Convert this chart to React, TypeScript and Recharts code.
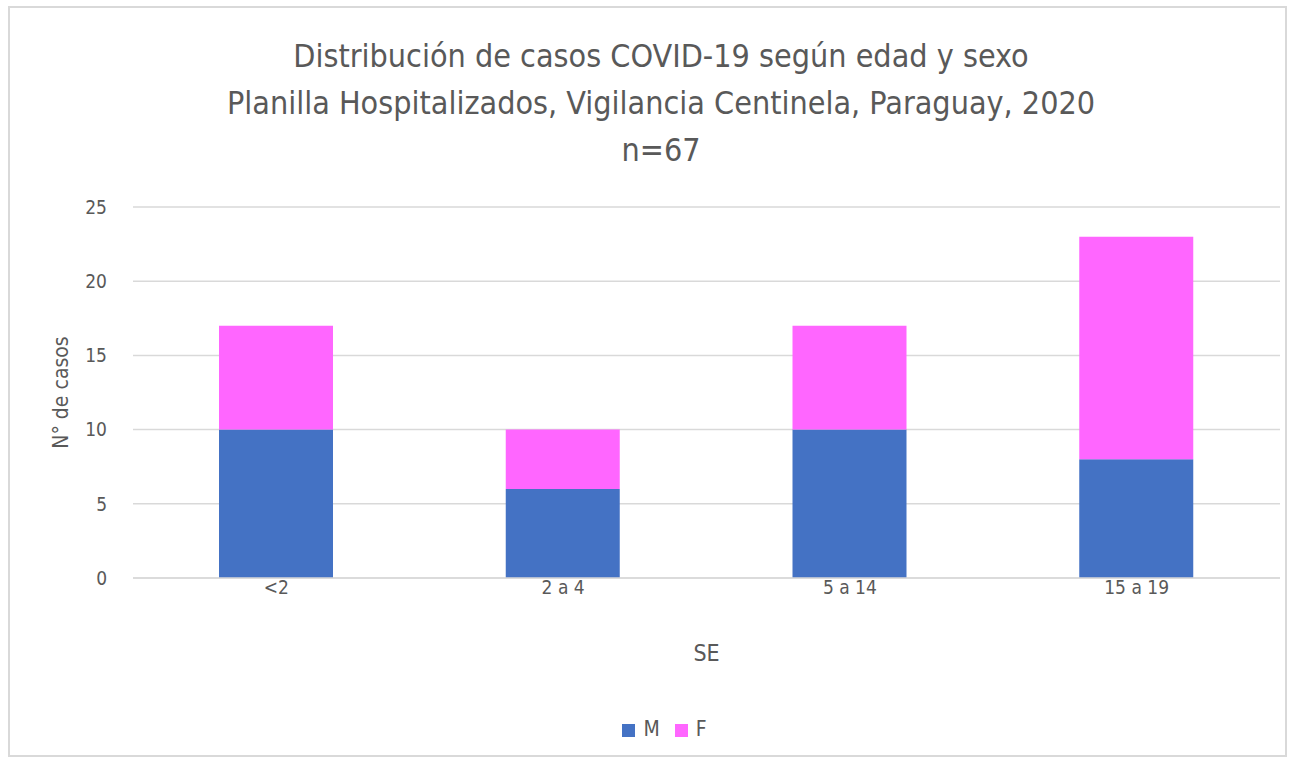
import React from "react";
import { BarChart, Bar, XAxis, YAxis, CartesianGrid, Legend } from "recharts";

const grupos = ["<2", "2 a 4", "5 a 14", "15 a 19"];
const masculino = [10, 6, 10, 8];
const femenino = [7, 4, 7, 15];
const yTicks = [0, 5, 10, 15, 20, 25];
const ordenLeyenda = ["M", "F"];

const FONT = "'DejaVu Sans Condensed', 'Roboto', sans-serif";
const TEXT = "#595959";

const data = grupos.map((g, i) => ({ grupo: g, M: masculino[i], F: femenino[i] }));

export default function App() {
  return (
    <div style={{ position: "absolute", left: 0, top: 0, width: 1293, height: 763, background: "#fff", fontFamily: FONT }}>
      <div
        style={{
          position: "absolute",
          left: 8,
          top: 6,
          width: 1279,
          height: 751,
          border: "2px solid #d9d9d9",
          boxSizing: "border-box",
        }}
      />
      <div
        style={{
          position: "absolute",
          left: 0,
          top: 33,
          width: 1322,
          textAlign: "center",
          color: TEXT,
          fontSize: 32,
          lineHeight: "47px",
        }}
      >
        <div>Distribución de casos COVID-19 según edad y sexo</div>
        <div>Planilla Hospitalizados, Vigilancia Centinela, Paraguay, 2020</div>
        <div>n=67</div>
      </div>
      <div style={{ position: "absolute", left: 0, top: 0 }}>
        <BarChart
          width={1293}
          height={763}
          data={data}
          margin={{ top: 207, right: 13, bottom: 81, left: 73 }}
          barSize={114}
        >
          <CartesianGrid vertical={false} stroke="#d9d9d9" strokeWidth={1.5} />
          <XAxis
            dataKey="grupo"
            height={80}
            axisLine={{ stroke: "#d9d9d9", strokeWidth: 1.5 }}
            tickLine={false}
            tickSize={0}
            tickMargin={3}
            tick={{ fill: TEXT, fontSize: 19, fontFamily: FONT }}
            label={{ value: "SE", position: "insideBottom", offset: -3, fill: TEXT, fontSize: 23, fontFamily: FONT }}
          />
          <YAxis
            width={60}
            domain={[0, 25]}
            ticks={yTicks}
            axisLine={false}
            tickLine={false}
            tickSize={0}
            tickMargin={26}
            tick={{ fill: TEXT, fontSize: 19, fontFamily: FONT }}
            label={{
              value: "N° de casos",
              angle: -90,
              position: "insideLeft",
              offset: -12,
              style: { textAnchor: "middle" },
              fill: TEXT,
              fontSize: 21,
              fontFamily: FONT,
            }}
          />
          <Legend
            verticalAlign="bottom"
            align="center"
            iconType="square"
            iconSize={13}
            itemSorter={(item: any) => ordenLeyenda.indexOf(item.value)}
            wrapperStyle={{ bottom: 22, left: 11, width: 1322, fontSize: 21, fontFamily: FONT }}
            formatter={(v: string) => <span style={{ color: TEXT, marginLeft: 4, marginRight: 5 }}>{v}</span>}
          />
          <Bar dataKey="M" stackId="a" fill="#4472c4" isAnimationActive={false} />
          <Bar dataKey="F" stackId="a" fill="#ff66ff" isAnimationActive={false} />
        </BarChart>
      </div>
    </div>
  );
}
